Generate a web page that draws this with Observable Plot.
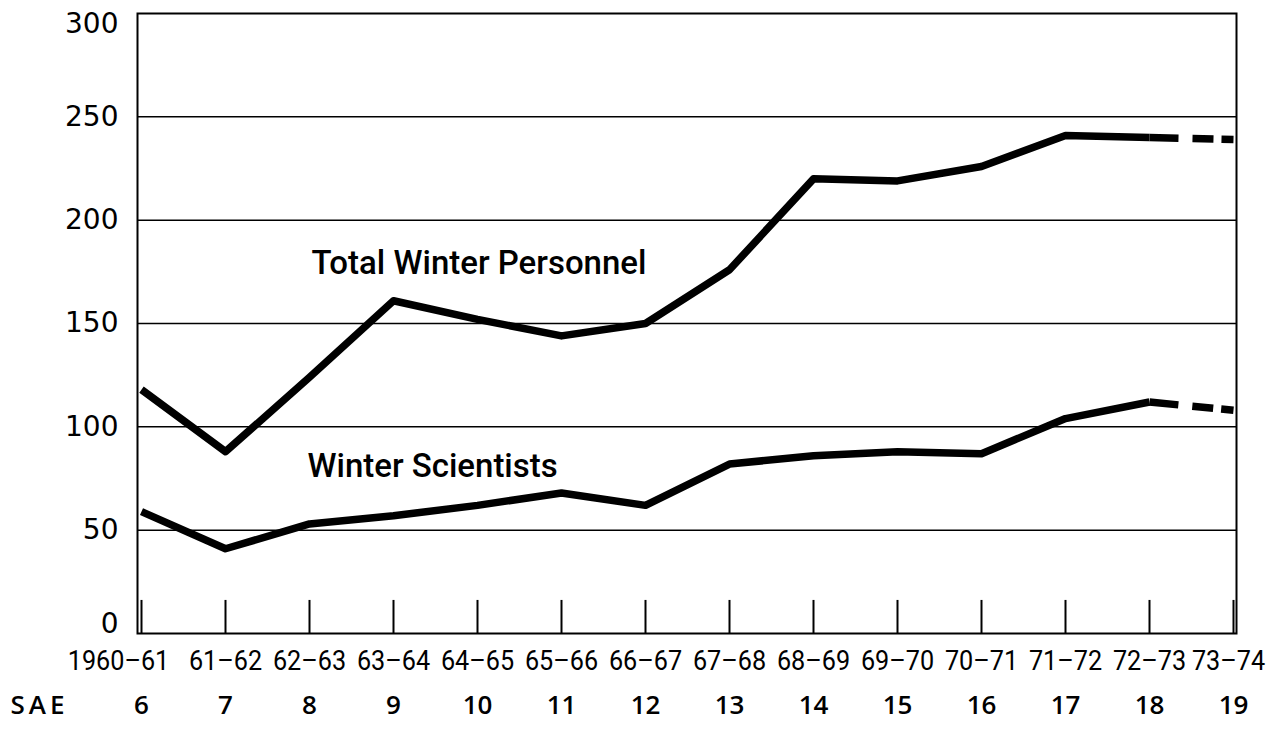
<!DOCTYPE html>
<html><head><meta charset="utf-8">
<script src="https://cdn.jsdelivr.net/npm/d3@7"></script>
<script src="https://cdn.jsdelivr.net/npm/@observablehq/plot@0.6"></script>
<style>
html,body{margin:0;padding:0;background:#fff;}
#chart{width:1272px;height:729px;}
</style></head>
<body><div id="chart"></div>
<script>
// ---- data ----
const seasons = ["1960–61","61–62","62–63","63–64","64–65","65–66","66–67","67–68","68–69","69–70","70–71","71–72","72–73","73–74"];
const saeNumbers = ["6","7","8","9","10","11","12","13","14","15","16","17","18","19"];
const totalWinterPersonnel = [118, 88, 124, 161, 152, 144, 150, 176, 220, 219, 226, 241, 240, 239];
const winterScientists = [59, 41, 53, 57, 62, 68, 62, 82, 86, 88, 87, 104, 112, 108];
const seriesNames = ["Total Winter Personnel", "Winter Scientists"];
const yTicks = [0, 50, 100, 150, 200, 250, 300];
const rowLabel = ["SAE"];

// ---- build table ----
const rows = [];
seasons.forEach((s, i) => {
  rows.push({season: s, series: seriesNames[0], value: totalWinterPersonnel[i], i});
  rows.push({season: s, series: seriesNames[1], value: winterScientists[i], i});
});
const lastIdx = seasons.length - 1;
const solidRows = rows.filter(d => d.i <= lastIdx - 1);
const dashedRows = rows.filter(d => d.i >= lastIdx - 1);
const tickReach = 16; // height of the bottom tick marks, in y units
const yMax = d3.max(yTicks), yMin = d3.min(yTicks);
const axisStyle = {tickSize: 0, tickPadding: 19, fontSize: 28, label: null, fontFamily: "DejaVu Sans"};
const seasonStyle = {frameAnchor: "bottom", dy: 36, fontSize: 28, fontFamily: "Roboto"};

const plot = Plot.plot({
  width: 1272, height: 729,
  marginLeft: 137, marginRight: 36, marginTop: 13, marginBottom: 96,
  style: {background: "white", color: "black", fontFamily: "DejaVu Sans, sans-serif", overflow: "visible"},
  x: {type: "point", domain: seasons, padding: 0, axis: null},
  y: {domain: [yMin, yMax], axis: null},
  marks: [
    Plot.ruleY(yTicks.filter(v => v > yMin && v < yMax), {stroke: "black", strokeWidth: 1.5}),
    Plot.frame({stroke: "black", strokeWidth: 2}),
    Plot.ruleX(seasons, {x: d => d, y1: yMin, y2: tickReach, stroke: "black", strokeWidth: 2}),
    Plot.axisY(yTicks.filter(v => v > yMin && v < yMax), axisStyle),
    Plot.axisY([yMax], {...axisStyle, dy: 11}),
    Plot.axisY([yMin], {...axisStyle, dy: -9}),
    Plot.line(solidRows, {x: "season", y: "value", z: "series", stroke: "black", strokeWidth: 7.5, strokeLinejoin: "round", strokeLinecap: "butt"}),
    Plot.line(dashedRows, {x: "season", y: "value", z: "series", stroke: "black", strokeWidth: 7.5, strokeLinecap: "butt", strokeDasharray: "29,14,21,8,20"}),
    Plot.text([seriesNames[0]], {x: () => seasons[2], y: () => 179, text: d => d, textAnchor: "start", dx: 2, fontSize: 34, fontWeight: 500, fontFamily: "Roboto"}),
    Plot.text([seriesNames[1]], {x: () => seasons[2], y: () => 81, text: d => d, textAnchor: "start", dx: -2, fontSize: 34, fontWeight: 500, fontFamily: "Roboto"}),
    Plot.text(seasons.slice(1, -1), {x: d => d, text: d => d, ...seasonStyle}),
    Plot.text(seasons.slice(0, 1), {x: d => d, text: d => d, ...seasonStyle, dx: -23}),
    Plot.text(seasons.slice(-1), {x: d => d, text: d => d, ...seasonStyle, dx: -5}),
    Plot.text(saeNumbers, {x: (d, i) => seasons[i], text: d => d, frameAnchor: "bottom", dy: 80, fontSize: 26, fontWeight: 600, fontFamily: "Open Sans"}),
    Plot.text(rowLabel, {frameAnchor: "bottom-left", text: d => d, textAnchor: "start", dx: -127, dy: 80, fontSize: 26, fontWeight: 600, fontFamily: "Open Sans"})
  ]
});
document.getElementById("chart").appendChild(plot);

// condense the narrow typeface of the original (texts picked by their content)
function pick(strings) {
  const set = new Set(strings);
  return d3.select(plot).selectAll("text").filter(function () { return set.has(this.textContent); });
}
function condense(strings, factor) {
  pick(strings).each(function () {
    const len = this.getComputedTextLength();
    if (len > 0) {
      this.setAttribute("textLength", (len * factor).toFixed(1));
      this.setAttribute("lengthAdjust", "spacingAndGlyphs");
    }
  });
}
condense(seasons, 0.9);
condense(seriesNames, 0.97);
pick(rowLabel).style("letter-spacing", "4px");
</script>
</body></html>
